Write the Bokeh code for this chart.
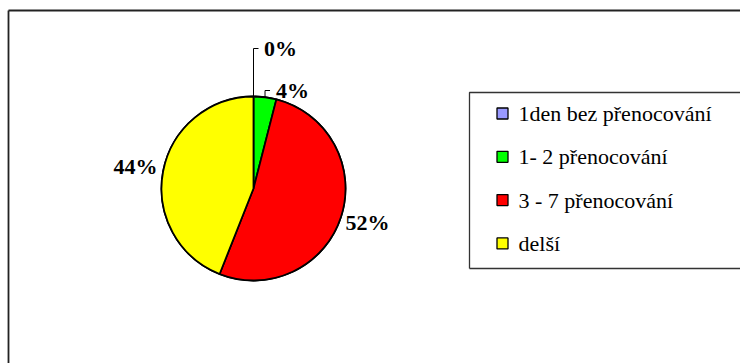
import math
from bokeh.plotting import figure
from bokeh.models import Range1d, ColumnDataSource
from bokeh.core.properties import value
from bokeh.embed import file_html
from bokeh.resources import INLINE

# ---- data ----
categories = ["1den bez přenocování", "1- 2 přenocování", "3 - 7 přenocování", "delší"]
percents = [0, 4, 52, 44]
colors = ["#9999FF", "#00FF00", "#FF0000", "#FFFF00"]

# ---- layout (pixel space, y measured from top) ----
W, H = 740, 363
CX, CY, R = 253, 188, 92
label_pos = [(280, 48), (292, 90), (367, 222), (135, 166)]
leader = [True, True, False, False]
legend_x, legend_y0, legend_dy = 502, 113, 43.3
FONT = value("Liberation Serif")

def fy(y):
    return H - y

p = figure(width=W, height=H, output_backend="svg", toolbar_location=None,
           x_range=Range1d(0, W), y_range=Range1d(0, H), min_border=0)
p.axis.visible = False
p.grid.visible = False
p.outline_line_color = None
p.background_fill_color = "white"
p.border_fill_color = "white"

# outer frame
p.line([8, W + 10], [fy(10), fy(10)], line_color="#222222", line_width=1.8)
p.line([8, 8], [fy(10), -10], line_color="#222222", line_width=1.8)

# pie
total = sum(percents)
starts, ends, mids = [], [], []
cum = 0.0
for v in percents:
    a0 = math.pi / 2 - 2 * math.pi * cum / total
    cum += v
    a1 = math.pi / 2 - 2 * math.pi * cum / total
    starts.append(a0)
    ends.append(a1)
    mids.append((a0 + a1) / 2)

src = ColumnDataSource(dict(start=starts, end=ends, color=colors))
p.wedge(x=CX, y=fy(CY), radius=R, start_angle="start", end_angle="end",
        direction="clock", fill_color="color", line_color="black",
        line_width=1.8, source=src)

# leader lines
for i, m in enumerate(mids):
    if not leader[i]:
        continue
    ax = CX + R * math.cos(m)
    ay = fy(CY) + R * math.sin(m)
    lx, lyy = label_pos[i]
    p.line([ax, ax, ax + 5], [ay, fy(lyy), fy(lyy)], line_color="black", line_width=1)

# percentage labels
p.text(x=[lp[0] for lp in label_pos], y=[fy(lp[1]) for lp in label_pos],
       text=[f"{v}%" for v in percents],
       text_font=FONT, text_font_style="bold",
       text_font_size="22px", text_align="center", text_baseline="middle")

# legend box
p.line([469, 469, W + 10], [fy(268), fy(92), fy(92)], line_color="#333333", line_width=1.3)
p.line([469, W + 10], [fy(268), fy(268)], line_color="#333333", line_width=1.3)

ly = [fy(legend_y0 + i * legend_dy) for i in range(len(categories))]
p.rect(x=[legend_x] * len(categories), y=ly, width=11, height=11,
       width_units="screen", height_units="screen",
       fill_color=colors, line_color="black", line_width=1.3)
p.text(x=[legend_x + 16] * len(categories), y=ly, text=categories,
       text_font=FONT, text_font_size="22px", text_baseline="middle")

open("out.html", "w").write(file_html(p, INLINE))
